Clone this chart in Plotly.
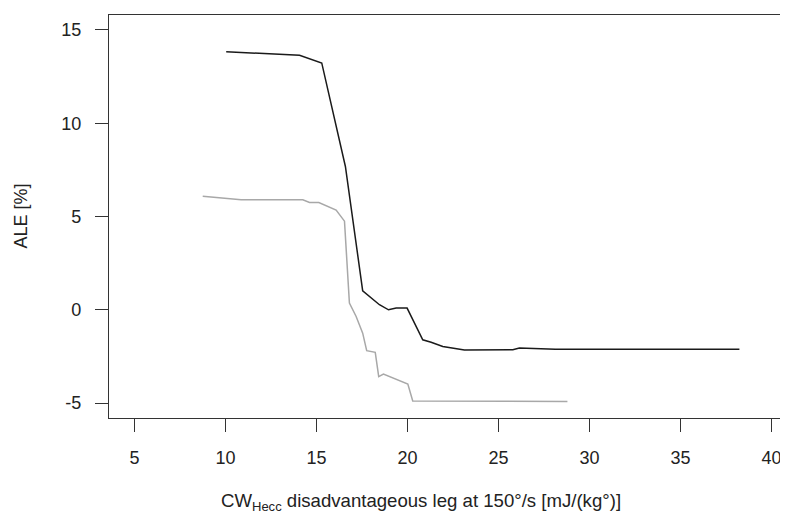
import plotly.graph_objects as go

# Black curve
black_x = [10.04, 14.07, 15.29, 16.59, 17.54, 18.46, 18.96, 19.38, 19.98, 20.84, 21.30, 21.94, 23.13, 25.79, 26.15, 27.80, 28.13, 38.24]
black_y = [13.83, 13.64, 13.23, 7.68, 1.02, 0.27, 0.00, 0.09, 0.09, -1.61, -1.74, -1.97, -2.15, -2.14, -2.05, -2.07, -2.11, -2.11]

# Grey curve
grey_x = [8.75, 10.86, 14.25, 14.62, 15.13, 16.08, 16.54, 16.81, 17.18, 17.54, 17.76, 18.23, 18.42, 18.68, 20.02, 20.29, 28.79]
grey_y = [6.09, 5.90, 5.90, 5.75, 5.75, 5.34, 4.75, 0.36, -0.36, -1.25, -2.19, -2.28, -3.58, -3.44, -3.98, -4.89, -4.92]

x_ticks = [5, 10, 15, 20, 25, 30, 35, 40]
y_ticks = [-5, 0, 5, 10, 15]
y_ticklabels = ["-5", "0", "5", "10", "15"]

FONT = "Liberation Sans, Arial, sans-serif"
AX = "#333333"

fig = go.Figure()
fig.add_trace(go.Scatter(x=grey_x, y=grey_y, mode="lines",
                         line=dict(color="#a8a8a8", width=1.5), showlegend=False))
fig.add_trace(go.Scatter(x=black_x, y=black_y, mode="lines",
                         line=dict(color="#1a1a1a", width=1.5), showlegend=False))

# page body has an 8px margin, so the figure is sized/offset to compensate
fig.update_layout(
    width=780, height=508,
    margin=dict(l=101, r=0, t=7, b=98),
    paper_bgcolor="white", plot_bgcolor="white",
    font=dict(family=FONT, size=18, color="#222222"),
    xaxis=dict(range=[3.6, 40.91], tickvals=x_ticks, ticks="outside", ticklen=13,
               tickwidth=1.2, tickcolor=AX, showline=True, linecolor=AX, linewidth=1.3,
               mirror=True, showgrid=False, zeroline=False, ticklabelstandoff=10,
               automargin=False),
    yaxis=dict(range=[-5.8, 15.8], tickvals=y_ticks, ticktext=y_ticklabels,
               ticks="outside", ticklen=13,
               tickwidth=1.2, tickcolor=AX, showline=True, linecolor=AX, linewidth=1.3,
               mirror=False, showgrid=False, zeroline=False, ticklabelstandoff=10,
               automargin=False),
    annotations=[
        dict(text="CW<sub>Hecc</sub> disadvantageous leg at 150°/s [mJ/(kg°)]",
             xref="paper", yref="paper", x=0.46, y=-0.208, xanchor="center",
             yanchor="middle", showarrow=False, font=dict(size=18.6)),
        dict(text="ALE [%]", xref="paper", yref="paper", x=-0.131, y=0.5,
             xanchor="center", yanchor="middle", textangle=-90, showarrow=False,
             font=dict(size=18)),
    ],
)

fig.write_html("out.html")
